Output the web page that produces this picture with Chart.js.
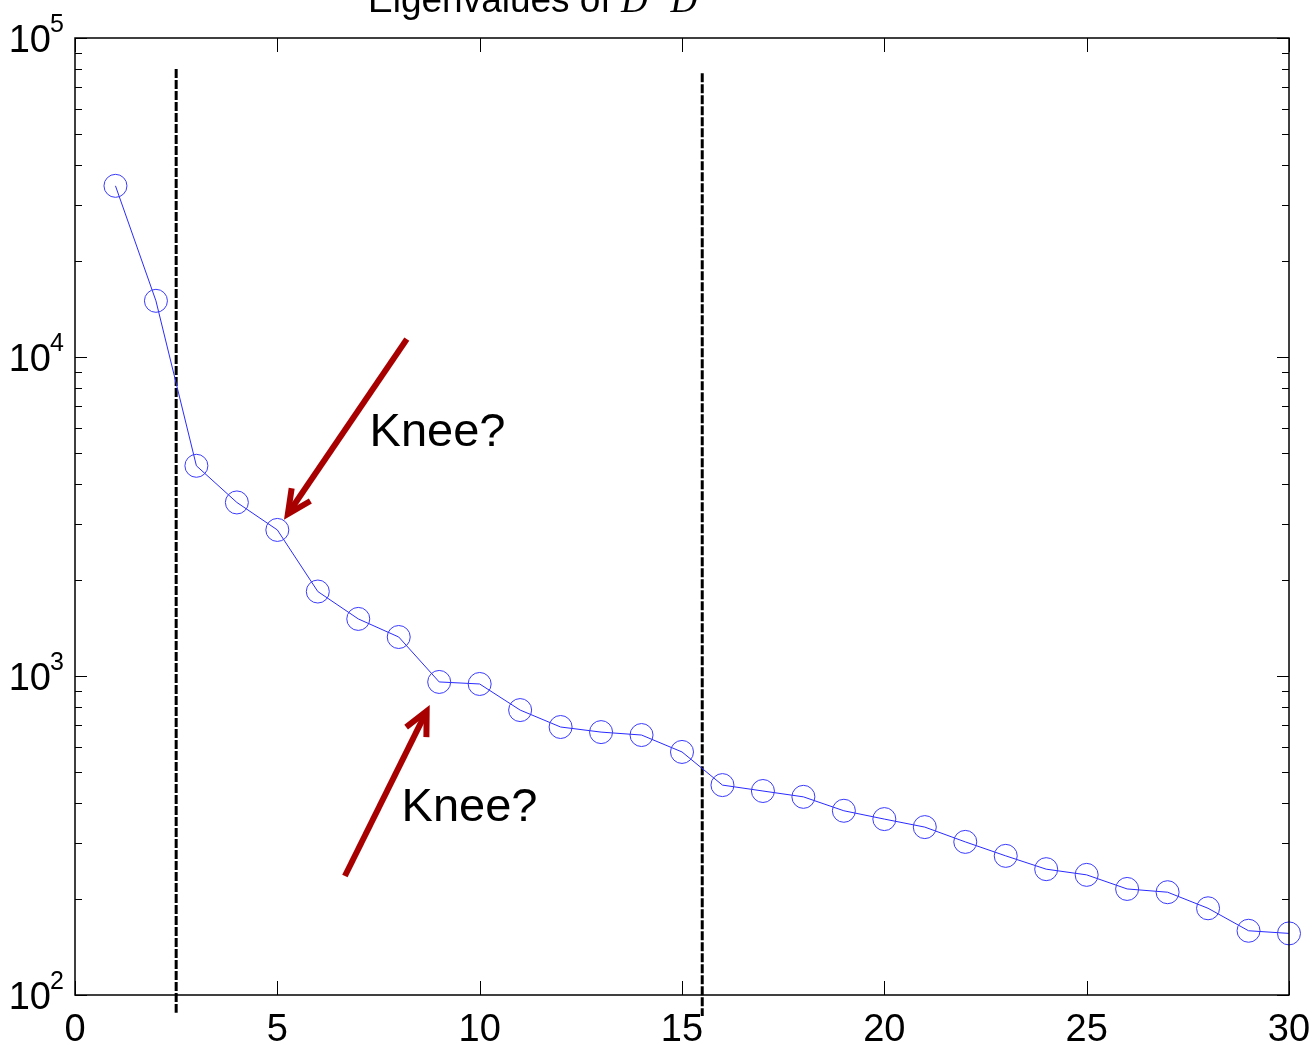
<!DOCTYPE html>
<html>
<head>
<meta charset="utf-8">
<script src="https://cdn.jsdelivr.net/npm/chart.js@4"></script>
<style>
  body { margin: 0; background: #fff; }
  canvas { display: block; }
</style>
</head>
<body>
<canvas id="eigChart" width="1312" height="1045"></canvas>
<script>
// index of each eigenvalue
const idx = [1, 2, 3, 4, 5, 6, 7, 8, 9, 10, 11, 12, 13, 14, 15,
             16, 17, 18, 19, 20, 21, 22, 23, 24, 25, 26, 27, 28, 29, 30];
// eigenvalues of D^T D
const eigVals = [34400, 15000, 4560, 3500, 2870, 1840, 1510, 1325, 958, 944,
                 782, 692, 667, 653, 578, 455, 436, 418, 378, 356,
                 336, 302, 273, 248, 238, 215, 210, 187, 159, 156];
// vertical split markers
const splitX = [2.5, 15.5];
const splitTop = [80000, 77600];
const splitBottom = [88, 86];
// axis ticks
const xTicks = [0, 5, 10, 15, 20, 25, 30];
const yExponents = [2, 3, 4, 5];
// "Knee?" notes: arrow tail, arrow tip, label position (data units)
const kneeTail = [[8.2, 11380], [6.67, 236]];
const kneeTip = [[5.26, 3220], [8.69, 776]];
const kneeLabel = [[7.28, 5260], [8.07, 351]];

const FONT = '"Liberation Sans", Arial, sans-serif';

// frame, inward ticks, tick labels, title and the annotations
const decorations = {
    id: 'decorations',
    afterDraw(chart) {
        const ctx = chart.ctx;
        const area = chart.chartArea;
        const xs = chart.scales.x;
        const ys = chart.scales.y;
        ctx.save();

        // box
        ctx.strokeStyle = '#000';
        ctx.lineWidth = 1.5;
        ctx.strokeRect(area.left, area.top, area.right - area.left, area.bottom - area.top);

        // x ticks, bottom and top
        ctx.lineWidth = 1;
        ctx.beginPath();
        xTicks.forEach(v => {
            const px = Math.round(xs.getPixelForValue(v)) + 0.5;
            ctx.moveTo(px, area.bottom);
            ctx.lineTo(px, area.bottom - 14);
            ctx.moveTo(px, area.top);
            ctx.lineTo(px, area.top + 14);
        });
        // y ticks, major and minor, both sides
        yExponents.forEach(e => {
            for (let m = 1; m <= 9; m++) {
                const v = m * Math.pow(10, e);
                if (v > ys.max) break;
                const py = Math.round(ys.getPixelForValue(v)) + 0.5;
                const len = m === 1 ? 12 : 7;
                ctx.moveTo(area.left, py);
                ctx.lineTo(area.left + len, py);
                ctx.moveTo(area.right, py);
                ctx.lineTo(area.right - len, py);
            }
        });
        ctx.stroke();

        // x tick labels
        ctx.fillStyle = '#000';
        ctx.font = '38px ' + FONT;
        ctx.textAlign = 'center';
        ctx.textBaseline = 'alphabetic';
        xTicks.forEach(v => {
            ctx.fillText(String(v), xs.getPixelForValue(v), area.bottom + 46);
        });

        // y tick labels 10^k
        yExponents.forEach(e => {
            const py = ys.getPixelForValue(Math.pow(10, e));
            ctx.font = '38px ' + FONT;
            ctx.textAlign = 'right';
            ctx.fillText('10', 51, py + 14);
            ctx.font = '25px ' + FONT;
            ctx.textAlign = 'left';
            ctx.fillText(String(e), 50, py - 6);
        });

        // title (mostly above the page edge)
        ctx.textAlign = 'left';
        let tx = 368;
        const ty = 12;
        ctx.font = '37px ' + FONT;
        ctx.fillText('Eigenvalues of ', tx, ty);
        tx += ctx.measureText('Eigenvalues of ').width;
        ctx.font = 'italic 37px "Liberation Serif", "Times New Roman", serif';
        ctx.fillText('D', tx, ty);
        tx += ctx.measureText('D').width;
        ctx.font = '24px "Liberation Serif", "Times New Roman", serif';
        ctx.fillText('T', tx + 1, ty - 16);
        tx += ctx.measureText('T ').width + 2;
        ctx.font = 'italic 37px "Liberation Serif", "Times New Roman", serif';
        ctx.fillText('D', tx, ty);

        // arrows
        ctx.strokeStyle = '#a80000';
        ctx.lineWidth = 6;
        ctx.lineCap = 'butt';
        ctx.lineJoin = 'miter';
        for (let i = 0; i < kneeTail.length; i++) {
            const x0 = xs.getPixelForValue(kneeTail[i][0]);
            const y0 = ys.getPixelForValue(kneeTail[i][1]);
            const x1 = xs.getPixelForValue(kneeTip[i][0]);
            const y1 = ys.getPixelForValue(kneeTip[i][1]);
            const ang = Math.atan2(y0 - y1, x0 - x1);
            ctx.beginPath();
            ctx.moveTo(x0, y0);
            ctx.lineTo(x1 + 3 * Math.cos(ang), y1 + 3 * Math.sin(ang));
            ctx.stroke();
            const hl = 26, spread = 0.45;
            ctx.beginPath();
            ctx.moveTo(x1 + hl * Math.cos(ang - spread), y1 + hl * Math.sin(ang - spread));
            ctx.lineTo(x1, y1);
            ctx.lineTo(x1 + hl * Math.cos(ang + spread), y1 + hl * Math.sin(ang + spread));
            ctx.stroke();
        }

        // labels
        ctx.fillStyle = '#000';
        ctx.font = '47px ' + FONT;
        ctx.textAlign = 'left';
        kneeLabel.forEach(p => {
            ctx.fillText('Knee?', xs.getPixelForValue(p[0]), ys.getPixelForValue(p[1]));
        });

        ctx.restore();
    }
};

const eigPoints = idx.map((x, i) => ({ x: x, y: eigVals[i] }));

const splitSets = splitX.map((x, i) => ({
    data: [{ x: x, y: splitTop[i] }, { x: x, y: splitBottom[i] }],
    borderColor: '#000',
    borderWidth: 3,
    borderDash: [9, 2],
    pointRadius: 0,
    fill: false,
    clip: false
}));

new Chart(document.getElementById('eigChart').getContext('2d'), {
    type: 'line',
    data: {
        datasets: [{
            data: eigPoints,
            borderColor: '#2a2aff',
            borderWidth: 1,
            tension: 0,
            fill: false,
            pointRadius: 11.5,
            pointStyle: 'circle',
            pointBorderColor: '#3a3aff',
            pointBackgroundColor: 'rgba(0,0,0,0)',
            pointBorderWidth: 1,
            clip: false
        }, ...splitSets]
    },
    options: {
        responsive: false,
        animation: false,
        devicePixelRatio: 1,
        layout: { padding: { left: 75, right: 23, top: 38, bottom: 50 } },
        plugins: {
            legend: { display: false },
            tooltip: { enabled: false },
            title: { display: false }
        },
        scales: {
            x: { type: 'linear', min: 0, max: 30, display: false },
            y: { type: 'logarithmic', min: 100, max: 100000, display: false }
        }
    },
    plugins: [decorations]
});
</script>
</body>
</html>
